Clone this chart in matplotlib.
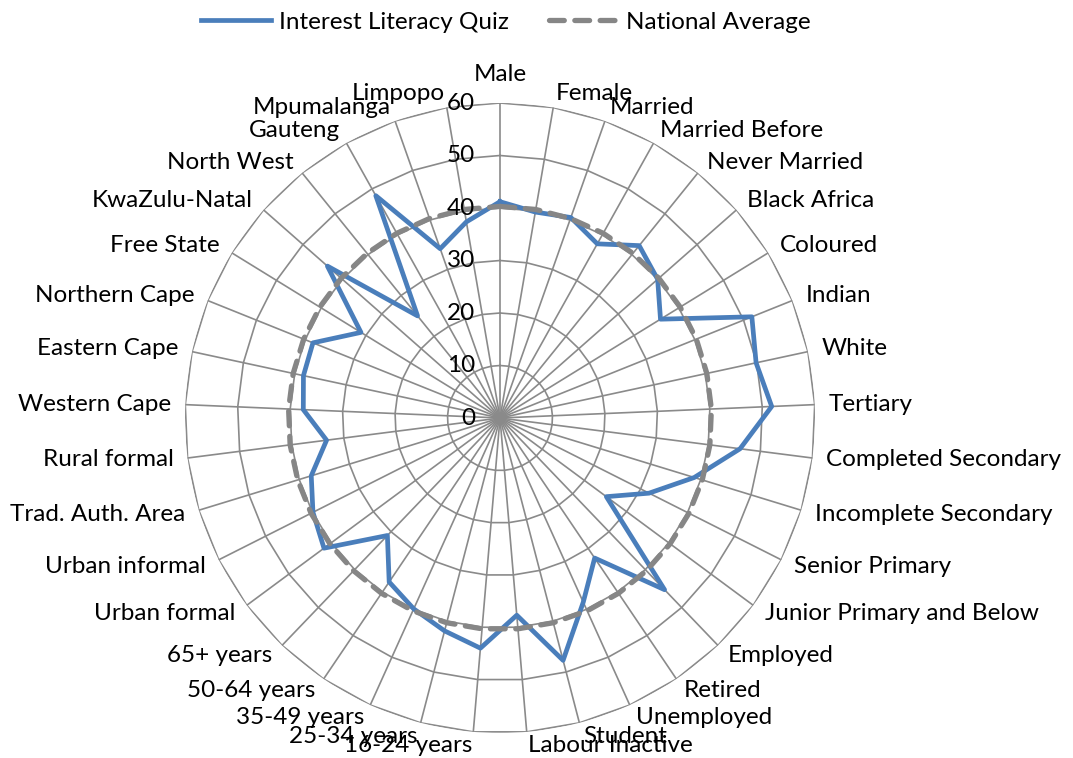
import matplotlib.pyplot as plt
import numpy as np

plt.rcParams['font.family'] = ['Lato', 'DejaVu Sans']

categories = [
    'Male', 'Female', 'Married', 'Married Before', 'Never Married',
    'Black Africa', 'Coloured', 'Indian', 'White', 'Tertiary',
    'Completed Secondary', 'Incomplete Secondary', 'Senior Primary',
    'Junior Primary and Below', 'Employed', 'Retired', 'Unemployed',
    'Student', 'Labour Inactive', '16-24 years', '25-34 years',
    '35-49 years', '50-64 years', '65+ years', 'Urban formal',
    'Urban informal', 'Trad. Auth. Area', 'Rural formal', 'Western Cape',
    'Eastern Cape', 'Northern Cape', 'Free State', 'KwaZulu-Natal',
    'North West', 'Gauteng', 'Mpumalanga', 'Limpopo',
]

quiz = [
    41.2, 39.8, 40.5, 38.0, 42.2, 40.0, 35.9, 51.7, 49.9, 51.8,
    46.1, 38.7, 31.8, 25.2, 45.3, 32.2, 38.5, 47.7, 37.7, 44.0,
    41.9, 39.9, 37.7, 31.0, 41.7, 39.9, 37.6, 33.3, 37.5, 38.3,
    38.4, 31.1, 43.8, 25.0, 48.5, 34.2, 37.9,
]

national = [40.3] * len(categories)

r_ticks = [0, 10, 20, 30, 40, 50, 60]

BLUE = '#4a7ebb'
GRAY = '#868686'
GRID = '#8a8a8a'

n = len(categories)
theta = np.arange(n) * 2 * np.pi / n
theta_closed = np.append(theta, theta[0])

fig = plt.figure(figsize=(10.73, 7.58), dpi=100)
ax = fig.add_axes([500 / 1073 - 315 / 1073, (758 - 418 - 315) / 758,
                   630 / 1073, 630 / 758], projection='polar')
ax.set_theta_zero_location('N')
ax.set_theta_direction(-1)
ax.set_ylim(0, 60)
ax.grid(False)
ax.set_xticks([])
ax.set_yticks([])
ax.spines['polar'].set_visible(False)

# polygon grid like Excel radar
for r in r_ticks[1:]:
    ax.plot(theta_closed, [r] * (n + 1), color=GRID, lw=1.2, zorder=1)
for t in theta:
    ax.plot([t, t], [0, 60], color=GRID, lw=1.2, zorder=1)

quiz_line, = ax.plot(theta_closed, quiz + quiz[:1], color=BLUE, lw=3.4,
                     solid_joinstyle='round', zorder=3)
nat_line, = ax.plot(theta_closed, national + national[:1], color=GRAY, lw=3.8,
                    linestyle=(0, (2.8, 2.0)), dash_capstyle='round', zorder=4)

fs = 17.5
px = 72 / 100

for r in r_ticks:
    ax.annotate(str(r), xy=(0, r), xytext=(-25 * px, 0), textcoords='offset points',
                ha='right', va='center', fontsize=fs, zorder=5)

for t, lab in zip(theta, categories):
    s, c = np.sin(t), np.cos(t)
    if abs(s) < 0.02:
        ha = 'center'
        va = 'bottom' if c > 0 else 'top'
        off = 18
    else:
        ha = 'left' if s > 0 else 'right'
        va = 'center'
        off = 14
    ax.annotate(lab, xy=(t, 60), xytext=(off * s * px, off * c * px),
                textcoords='offset points', ha=ha, va=va, fontsize=fs,
                annotation_clip=False)

fig.legend([quiz_line, nat_line], ['Interest Literacy Quiz', 'National Average'],
           loc='center', bbox_to_anchor=(506 / 1073, 1 - 22 / 758), ncol=2,
           frameon=False, fontsize=fs, handlelength=2.9, handletextpad=0.3,
           columnspacing=1.65)

fig.savefig('out.png', dpi=100)
